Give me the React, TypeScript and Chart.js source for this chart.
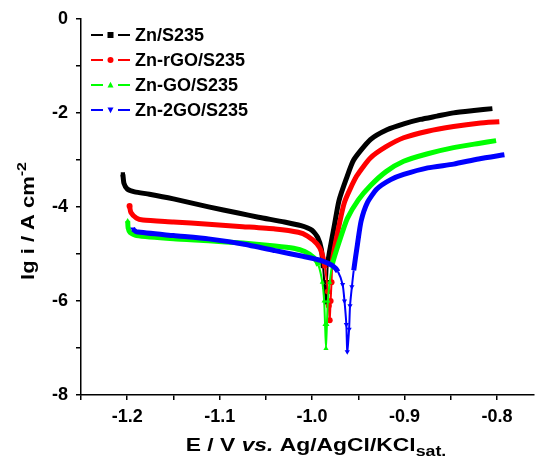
import React, { useEffect, useRef } from 'react';
import { Chart, registerables } from 'chart.js';

Chart.register(...registerables);

const seriesNames = ['Zn/S235', 'Zn-rGO/S235', 'Zn-GO/S235', 'Zn-2GO/S235'];
const seriesColors = ['#000000', '#ff0000', '#00ff00', '#0000ff'];
const seriesMarkers = ['rect', 'circle', 'triangle', 'triangleDown'];

// Zn/S235
const eZn = [-1.2047, -1.2035, -1.2, -1.192, -1.176, -1.15, -1.112, -1.08, -1.058, -1.03, -1.012, -1.0, -0.994, -0.99, -0.988, -0.9865, -0.985, -0.984, -0.983, -0.981, -0.976, -0.971, -0.963, -0.955, -0.937, -0.919, -0.9, -0.883, -0.865, -0.847, -0.825, -0.805];
const lgZn = [-3.31, -3.5, -3.62, -3.68, -3.73, -3.83, -4.0, -4.13, -4.22, -4.32, -4.4, -4.5, -4.65, -4.9, -5.3, -5.7, -6.03, -5.6, -5.2, -4.93, -4.4, -3.87, -3.4, -3.0, -2.57, -2.36, -2.23, -2.14, -2.07, -2.0, -1.95, -1.91];

// Zn-rGO/S235
const eRgo = [-1.1975, -1.196, -1.19, -1.183, -1.15, -1.112, -1.075, -1.04, -1.015, -1.005, -0.995, -0.99, -0.986, -0.983, -0.982, -0.981, -0.98, -0.979, -0.978, -0.973, -0.965, -0.952, -0.937, -0.92, -0.901, -0.875, -0.847, -0.82, -0.7975];
const lgRgo = [-3.98, -4.12, -4.24, -4.28, -4.32, -4.37, -4.42, -4.47, -4.54, -4.62, -4.78, -4.95, -5.3, -5.8, -6.1, -6.41, -6.0, -5.6, -5.14, -4.6, -3.9, -3.35, -2.96, -2.72, -2.53, -2.39, -2.29, -2.22, -2.19];

// Zn-GO/S235
const eGo = [-1.1995, -1.199, -1.197, -1.19, -1.15, -1.112, -1.075, -1.04, -1.02, -1.008, -0.998, -0.993, -0.989, -0.987, -0.986, -0.985, -0.984, -0.983, -0.981, -0.978, -0.97, -0.962, -0.95, -0.937, -0.92, -0.901, -0.875, -0.847, -0.82, -0.801];
const lgGo = [-4.3, -4.45, -4.54, -4.61, -4.68, -4.72, -4.77, -4.83, -4.88, -4.95, -5.08, -5.25, -5.6, -6.0, -6.5, -7.01, -6.5, -6.0, -5.6, -5.21, -4.7, -4.25, -3.85, -3.55, -3.25, -3.03, -2.87, -2.74, -2.65, -2.59];

// Zn-2GO/S235
const e2go = [-1.194, -1.19, -1.15, -1.112, -1.075, -1.04, -1.01, -0.99, -0.978, -0.972, -0.967, -0.965, -0.963, -0.962, -0.96, -0.959, -0.957, -0.955, -0.951, -0.947, -0.94, -0.93, -0.915, -0.901, -0.875, -0.847, -0.82, -0.792];
const lg2go = [-4.47, -4.53, -4.61, -4.68, -4.79, -4.93, -5.05, -5.14, -5.25, -5.38, -5.65, -6.0, -6.5, -7.08, -6.6, -6.1, -5.7, -5.35, -4.8, -4.3, -3.9, -3.62, -3.42, -3.31, -3.17, -3.09, -2.98, -2.89];

const seriesE = [eZn, eRgo, eGo, e2go];
const seriesLg = [lgZn, lgRgo, lgGo, lg2go];

const xMin = -1.25;
const xMax = -0.76;
const xStep = 0.05;
const yMin = -8;
const yMax = 0;
const yStep = 1;

const FONT = '"Liberation Sans", Arial, Helvetica, sans-serif';

function drawMarker(ctx: CanvasRenderingContext2D, kind: string, x: number, y: number, r: number, color: string) {
  ctx.save();
  ctx.fillStyle = color;
  ctx.beginPath();
  if (kind === 'rect') {
    ctx.rect(x - r, y - r, 2 * r, 2 * r);
  } else if (kind === 'circle') {
    ctx.arc(x, y, r, 0, Math.PI * 2);
  } else if (kind === 'triangle') {
    ctx.moveTo(x, y - r * 1.1);
    ctx.lineTo(x + r, y + r * 0.8);
    ctx.lineTo(x - r, y + r * 0.8);
    ctx.closePath();
  } else {
    ctx.moveTo(x, y + r * 1.1);
    ctx.lineTo(x + r, y - r * 0.8);
    ctx.lineTo(x - r, y - r * 0.8);
    ctx.closePath();
  }
  ctx.fill();
  ctx.restore();
}

type Part = { t: string; font: string; dy: number };

function drawParts(ctx: CanvasRenderingContext2D, parts: Part[], sx: number) {
  let total = 0;
  const widths = parts.map((p) => {
    ctx.font = p.font;
    const w = ctx.measureText(p.t).width * sx;
    total += w;
    return w;
  });
  let x = -total / 2;
  parts.forEach((p, i) => {
    ctx.save();
    ctx.font = p.font;
    ctx.translate(x, p.dy);
    ctx.scale(sx, 1);
    ctx.fillText(p.t, 0, 0);
    ctx.restore();
    x += widths[i];
  });
}

const overlayPlugin = {
  id: 'overlayText',
  afterDraw(chart: any) {
    const ctx: CanvasRenderingContext2D = chart.ctx;
    const ca = chart.chartArea;
    ctx.save();
    // legend
    seriesNames.forEach((name, i) => {
      const y = 35 + i * 25;
      const x0 = ca.left + 10;
      ctx.strokeStyle = seriesColors[i];
      ctx.lineWidth = 2;
      ctx.beginPath();
      ctx.moveTo(x0, y);
      ctx.lineTo(x0 + 12, y);
      ctx.moveTo(x0 + 27, y);
      ctx.lineTo(x0 + 39, y);
      ctx.stroke();
      drawMarker(ctx, seriesMarkers[i], x0 + 19.5, y, 3, seriesColors[i]);
      ctx.fillStyle = '#000';
      ctx.font = `bold 18px ${FONT}`;
      ctx.textBaseline = 'middle';
      ctx.textAlign = 'left';
      ctx.fillText(name, x0 + 44, y + 1);
    });

    // x title
    ctx.fillStyle = '#000';
    ctx.textBaseline = 'alphabetic';
    ctx.textAlign = 'left';
    ctx.save();
    ctx.translate(316, 451);
    drawParts(
      ctx,
      [
        { t: 'E / V ', font: `bold 18px ${FONT}`, dy: 0 },
        { t: 'vs.', font: `italic bold 18px ${FONT}`, dy: 0 },
        { t: ' Ag/AgCl/KCl', font: `bold 18px ${FONT}`, dy: 0 },
        { t: 'sat.', font: `bold 14px ${FONT}`, dy: 5 },
      ],
      1.27
    );
    ctx.restore();

    // y title
    ctx.save();
    ctx.translate(34, 221);
    ctx.rotate(-Math.PI / 2);
    drawParts(
      ctx,
      [
        { t: 'lg i / A cm', font: `bold 18px ${FONT}`, dy: 0 },
        { t: '-2', font: `bold 13px ${FONT}`, dy: -8 },
      ],
      1.22
    );
    ctx.restore();
    ctx.restore();
  },
};

export default function App() {
  const canvasRef = useRef<HTMLCanvasElement | null>(null);

  useEffect(() => {
    const canvas = canvasRef.current;
    if (!canvas) return;
    const datasets = seriesNames.map((name, i) => {
      const data = seriesE[i].map((e, j) => ({ x: e, y: seriesLg[i][j] }));
      const marker = seriesMarkers[i];
      return {
        label: name,
        data,
        borderColor: seriesColors[i],
        backgroundColor: seriesColors[i],
        pointBackgroundColor: seriesColors[i],
        pointBorderColor: seriesColors[i],
        pointBorderWidth: 0,
        pointStyle: marker === 'rect' ? 'rect' : marker === 'circle' ? 'circle' : 'triangle',
        rotation: marker === 'triangleDown' ? 180 : 0,
        pointRadius: (c: any) => {
          const idx = c.dataIndex;
          const p = data[idx];
          if (!p) return 0;
          if (idx === 0) return 3;
          return p.y < -5.4 ? 3 : 0;
        },
        borderWidth: 5,
        tension: 0.2,
        order: 4 - i,
        segment: {
          borderWidth: (c: any) => {
            const a = data[c.p0DataIndex];
            const b = data[c.p1DataIndex];
            return a && b && (a.y < -5.4 || b.y < -5.4) ? 2 : 5;
          },
        },
      };
    });

    const chart = new Chart(canvas, {
      type: 'line',
      data: { datasets },
      options: {
        animation: false,
        responsive: false,
        maintainAspectRatio: false,
        devicePixelRatio: 1,
        layout: { padding: { top: 17, right: 0, left: 0, bottom: 0 } },
        plugins: {
          legend: { display: false },
          tooltip: { enabled: false },
          title: { display: false },
        },
        scales: {
          x: {
            type: 'linear',
            min: xMin,
            max: xMax,
            afterFit: (s: any) => {
              s.height = 65;
            },
            border: { display: true, color: '#000', width: 1.5 },
            grid: {
              drawOnChartArea: false,
              drawTicks: true,
              tickLength: 5,
              color: '#000',
              lineWidth: 1.5,
            },
            ticks: {
              stepSize: xStep,
              includeBounds: false,
              autoSkip: false,
              maxRotation: 0,
              padding: 6,
              color: '#000',
              font: { family: FONT, size: 18, weight: 'bold' },
              callback: (v: any) => {
                const k = Math.round(Number(v) * 100);
                return k % 10 === 0 ? (Number(v)).toFixed(1) : '';
              },
            },
          },
          y: {
            type: 'linear',
            min: yMin,
            max: yMax,
            afterFit: (s: any) => {
              s.width = 81;
            },
            border: { display: true, color: '#000', width: 1.5 },
            grid: {
              drawOnChartArea: false,
              drawTicks: true,
              tickLength: 5,
              color: '#000',
              lineWidth: 1.5,
            },
            ticks: {
              stepSize: yStep,
              autoSkip: false,
              padding: 8,
              color: '#000',
              font: { family: FONT, size: 18, weight: 'bold' },
              callback: (v: any) => {
                const n = Math.round(Number(v));
                return n % 2 === 0 ? String(n) : '';
              },
            },
          },
        },
      },
      plugins: [overlayPlugin],
    } as any);

    return () => {
      chart.destroy();
    };
  }, []);

  return (
    <div style={{ position: 'absolute', left: 0, top: 0, width: 538, height: 460, background: '#fff' }}>
      <canvas ref={canvasRef} width={538} height={460} style={{ width: 538, height: 460, display: 'block' }} />
    </div>
  );
}
